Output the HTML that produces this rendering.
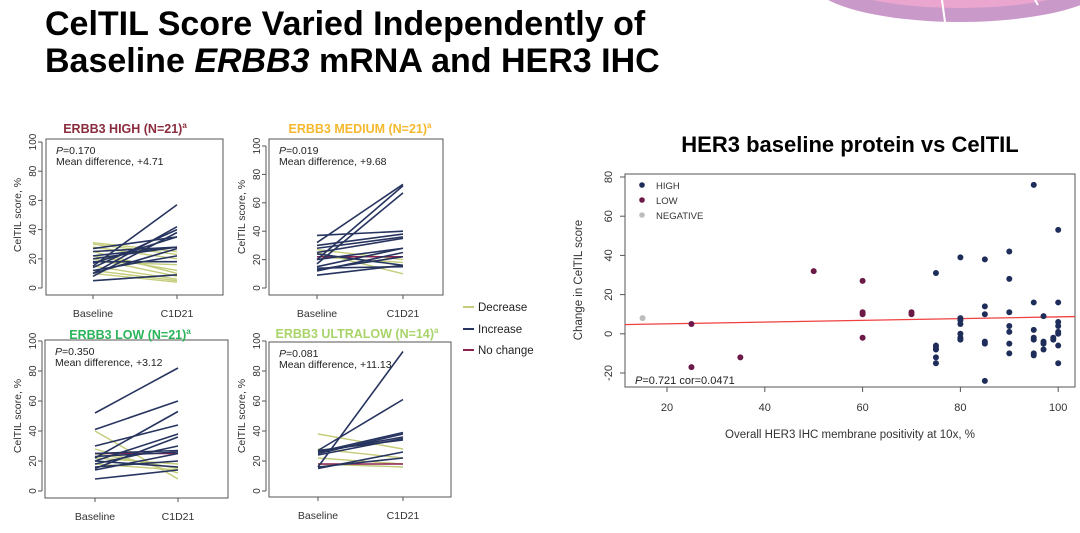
<!DOCTYPE html>
<html><head><meta charset="utf-8">
<style>
html,body{margin:0;padding:0;background:#fff;}
body{width:1080px;height:528px;overflow:hidden;font-family:"Liberation Sans",Arial,sans-serif;}
</style></head>
<body>
<svg id="s" width="1080" height="528" xmlns="http://www.w3.org/2000/svg" font-family="Liberation Sans, Arial, sans-serif">
<ellipse cx="960" cy="-20" rx="150" ry="42" fill="#c99ac9"/>
<ellipse cx="960" cy="-28" rx="140" ry="36" fill="#eaa6cf"/>
<line x1="942" y1="0" x2="945" y2="22" stroke="#fff" stroke-width="2"/>
<line x1="1035" y1="0" x2="1038" y2="5" stroke="#fff" stroke-width="2"/>
<text x="45" y="35" font-size="34" font-weight="bold" fill="#000">CelTIL Score Varied Independently of</text>
<text x="45" y="72" font-size="34" font-weight="bold" fill="#000">Baseline <tspan font-style="italic">ERBB3</tspan> mRNA and HER3 IHC</text>
<text x="850" y="152" font-size="22" font-weight="bold" text-anchor="middle" fill="#000">HER3 baseline protein vs CelTIL</text>
<g id="g"></g>
</svg>
<script>
const g=document.getElementById('g');let h='';
const INC='#26345f',DEC='#c5cc7a',NC='#8b2252';
function panel(o){
 const {bx0,bx1,by0,by1,xb,xc,y0,y100,lx,title,tc,tx,ty,p,md,lines}=o;
 const Y=v=>y0-(y0-y100)*v/100;
 h+=`<rect x="${bx0}" y="${by0}" width="${bx1-bx0}" height="${by1-by0}" fill="none" stroke="#555" stroke-width="1"/>`;
 h+=`<line x1="${lx+5}" y1="${Y(0)}" x2="${lx+5}" y2="${Y(100)}" stroke="#555"/>`;
 for(let v=0;v<=100;v+=20){const y=Y(v);h+=`<line x1="${lx+1}" y1="${y}" x2="${lx+5}" y2="${y}" stroke="#555"/><text transform="translate(${lx-1},${y}) rotate(-90)" font-size="10" text-anchor="middle" fill="#333">${v}</text>`;}
 h+=`<text transform="translate(${lx-16},${(Y(0)+Y(100))/2}) rotate(-90)" font-size="10.5" text-anchor="middle" fill="#333">CelTIL score, %</text>`;
 h+=`<line x1="${xb}" y1="${by1}" x2="${xc}" y2="${by1}" stroke="#555"/><line x1="${xb}" y1="${by1}" x2="${xb}" y2="${by1+4}" stroke="#555"/><line x1="${xc}" y1="${by1}" x2="${xc}" y2="${by1+4}" stroke="#555"/>`;
 h+=`<text x="${xb}" y="${by1+22}" font-size="10.5" text-anchor="middle" fill="#333">Baseline</text><text x="${xc}" y="${by1+22}" font-size="10.5" text-anchor="middle" fill="#333">C1D21</text>`;
 h+=`<text x="${tx}" y="${ty}" font-size="12.5" font-weight="bold" text-anchor="middle" fill="${tc}">${title}<tspan font-size="8" dy="-5">a</tspan></text>`;
 h+=`<text x="${bx0+10}" y="${by0+15}" font-size="10.5" fill="#222"><tspan font-style="italic">P</tspan>=${p}</text><text x="${bx0+10}" y="${by0+26}" font-size="10.5" fill="#222">Mean difference, ${md}</text>`;
 const srt=lines.slice().sort((a,b)=>(a[2]==='i')-(b[2]==='i'));
 for(const [a,b,t] of srt){const c=t==='i'?INC:t==='d'?DEC:NC;h+=`<line x1="${xb}" y1="${Y(a)}" x2="${xc}" y2="${Y(b)}" stroke="${c}" stroke-width="${t==='i'?1.6:1.4}"/>`;}
}
function L(arr,t){return arr.map(x=>[x[0],x[1],t]);}
panel({bx0:46,bx1:223,by0:139,by1:295,xb:93,xc:177,y0:288,y100:142,lx:37,tx:125,ty:133,title:'ERBB3 HIGH (N=21)',tc:'#8b2c3e',p:'0.170',md:'+4.71',
 lines:[...L([[15,57],[10,42],[8,38],[14,40],[17,35],[22,28],[27,35],[20,28],[12,22],[18,18],[5,9],[10,27],[25,28]],'i'),...L([[31,25],[28,20],[25,10],[20,8],[15,6],[12,5],[10,4],[22,12],[18,16],[30,23]],'d')]});
panel({bx0:269,bx1:443,by0:139,by1:295,xb:317,xc:403,y0:288,y100:146,lx:261,tx:360,ty:133,title:'ERBB3 MEDIUM (N=21)',tc:'#f5b82e',p:'0.019',md:'+9.68',
 lines:[...L([[32,73],[20,72],[17,67],[37,40],[30,38],[28,36],[25,35],[15,28],[12,25],[13,22],[9,16],[14,15],[20,28],[24,16]],'i'),...L([[27,20],[25,10],[22,18]],'d'),[22,22,'n']]});
panel({bx0:45,bx1:228,by0:340,by1:498,xb:95,xc:178,y0:491,y100:341,lx:37,tx:130,ty:339,title:'ERBB3 LOW (N=21)',tc:'#2bb45a',p:'0.350',md:'+3.12',
 lines:[...L([[52,82],[41,60],[30,44],[22,53],[20,38],[15,36],[18,30],[25,27],[14,25],[16,20],[8,14],[20,16],[23,26]],'i'),...L([[40,8],[28,12],[25,15],[22,18],[18,14]],'d'),[25,25,'n']]});
panel({bx0:269,bx1:451,by0:342,by1:497,xb:318,xc:403,y0:491,y100:341,lx:261,tx:357,ty:338,title:'ERBB3 ULTRALOW (N=14)',tc:'#a8d46a',p:'0.081',md:'+11.13',
 lines:[...L([[16,93],[27,61],[26,39],[25,38],[24,35],[27,34],[15,26],[16,22],[26,36]],'i'),...L([[38,28],[28,22],[22,18],[18,16]],'d'),[18,18,'n']]});
[['Decrease',DEC,307],['Increase',INC,329],['No change',NC,350]].forEach(([t,c,y])=>{h+=`<line x1="463" y1="${y}" x2="474" y2="${y}" stroke="${c}" stroke-width="2"/><text x="478" y="${y+4}" font-size="11.5" fill="#222">${t}</text>`;});
const X=v=>667+(v-20)*4.89, SY=v=>177+(80-v)*1.96;
h+=`<rect x="625" y="174" width="450" height="213" fill="none" stroke="#555"/>`;
for(let v=-20;v<=80;v+=20){h+=`<line x1="620" y1="${SY(v)}" x2="625" y2="${SY(v)}" stroke="#555"/><text transform="translate(612,${SY(v)}) rotate(-90)" font-size="11" text-anchor="middle" fill="#333">${v}</text>`;}
for(let v=20;v<=100;v+=20){h+=`<line x1="${X(v)}" y1="387" x2="${X(v)}" y2="392" stroke="#555"/><text x="${X(v)}" y="411" font-size="11" text-anchor="middle" fill="#333">${v}</text>`;}
h+=`<text transform="translate(582,280) rotate(-90)" font-size="11.5" text-anchor="middle" fill="#333">Change in CelTIL score</text>`;
h+=`<text x="850" y="438" font-size="11.5" text-anchor="middle" fill="#333">Overall HER3 IHC membrane positivity at 10x, %</text>`;
h+=`<line x1="625" y1="${SY(4.7)}" x2="1075" y2="${SY(8.8)}" stroke="#f04040" stroke-width="1.3"/>`;
const HI='#1f2d5a',LO='#6b1a47',NG='#bdbdbd';
const pts=[[15,8,NG],...[[25,5],[25,-17],[35,-12],[50,32],[60,27],[60,11],[60,10],[60,-2],[70,11],[70,10]].map(p=>[...p,LO]),
...[[75,31],[75,-6],[75,-7],[75,-8],[75,-12],[75,-15],[80,39],[80,8],[80,7],[80,5],[80,0],[80,-2],[80,-3],[85,38],[85,14],[85,10],[85,-4],[85,-5],[85,-24],[90,42],[90,28],[90,11],[90,4],[90,1],[90,-5],[90,-10],[95,76],[95,16],[95,2],[95,-2],[95,-3],[95,-10],[95,-11],[97,9],[97,-4],[97,-5],[97,-8],[99,-2],[99,-3],[100,53],[100,16],[100,6],[100,4],[100,1],[100,0],[100,-6],[100,-15]].map(p=>[...p,HI])];
pts.forEach(([x,y,c])=>{h+=`<circle cx="${X(x)}" cy="${SY(y)}" r="3" fill="${c}"/>`;});
[['HIGH',HI,185],['LOW',LO,200],['NEGATIVE',NG,215]].forEach(([t,c,y])=>{h+=`<circle cx="642" cy="${y}" r="2.8" fill="${c}"/><text x="656" y="${y+4}" font-size="9.5" fill="#333">${t}</text>`;});
h+=`<text x="635" y="384" font-size="11" fill="#222"><tspan font-style="italic">P</tspan>=0.721 cor=0.0471</text>`;
g.innerHTML=h;
</script>
</body></html>
